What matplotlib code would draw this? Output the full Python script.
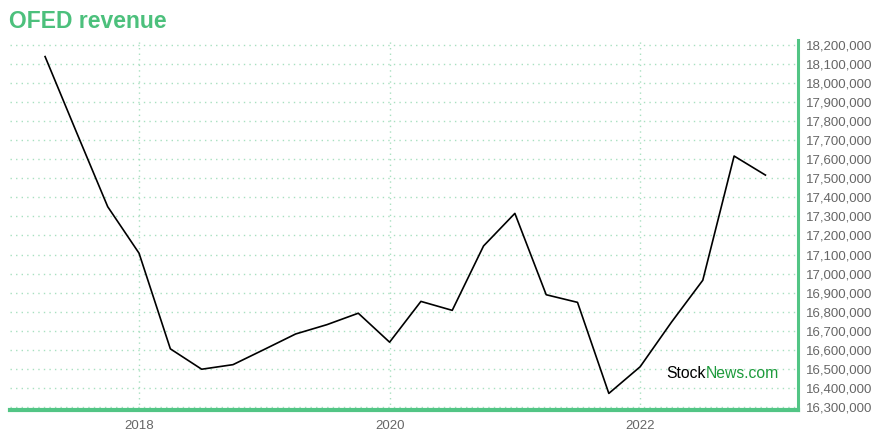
import matplotlib
matplotlib.use("Agg")
import matplotlib.pyplot as plt
from matplotlib.ticker import FuncFormatter, MultipleLocator, FixedLocator

plt.rcParams['font.family'] = ['Liberation Sans', 'DejaVu Sans']

# quarterly revenue (quarter ends, decimal years)
quarters = [2017.25, 2017.5, 2017.75, 2018.0, 2018.25, 2018.5, 2018.75, 2019.0,
            2019.25, 2019.5, 2019.75, 2020.0, 2020.25, 2020.5, 2020.75, 2021.0,
            2021.25, 2021.5, 2021.75, 2022.0, 2022.25, 2022.5, 2022.75, 2023.0]
revenue = [18139000, 17743000, 17351000, 17107000, 16605000, 16498000, 16522000, 16602000,
           16683000, 16732000, 16792000, 16640000, 16854000, 16807000, 17145000, 17316000,
           16889000, 16849000, 16371000, 16511000, 16745000, 16965000, 17617000, 17517000]
year_ticks = [2018, 2020, 2022]

GREEN = "#52c585"
GRID = "#a8e0c0"

fig = plt.figure(figsize=(8.8, 4.4), dpi=100)
ax = fig.add_axes([10 / 880, 30 / 440, 788 / 880, 370 / 440])

ax.plot(quarters, revenue, color="black", lw=1.2, zorder=3)

ax.set_xlim(2016.97, 2023.26)
ax.set_ylim(16284000, 18226000)

ax.yaxis.tick_right()
ax.yaxis.set_major_locator(MultipleLocator(100000))
ax.yaxis.set_major_formatter(FuncFormatter(lambda v, p: f"{int(round(v)):,}"))
ax.xaxis.set_major_locator(FixedLocator(year_ticks))
ax.xaxis.set_major_formatter(FuncFormatter(lambda v, p: f"{int(v)}"))

ax.tick_params(axis="both", length=0, labelsize=9.5, labelcolor="#666666")
ax.tick_params(axis="y", pad=6)
ax.tick_params(axis="x", pad=7)

ax.grid(True, color=GRID, linestyle=(0, (1, 3)), lw=1.0)
ax.set_axisbelow(True)

for s in ["top", "left"]:
    ax.spines[s].set_visible(False)
ax.spines["right"].set_color(GREEN)
ax.spines["right"].set_linewidth(2.2)
ax.spines["bottom"].set_color(GREEN)
ax.spines["bottom"].set_linewidth(3)

fig.text(9 / 880, 1 - 22 / 440, "OFED revenue", color="#4cc07c", fontsize=16.5,
         fontweight="bold", va="center", ha="left")

# watermark, two colours
x0 = (666 - 10) / 788
y0 = (410 - 373) / 370
stock = ax.text(x0, y0, "Stock", transform=ax.transAxes, color="black",
                fontsize=11.3, va="center", ha="left", zorder=4)
fig.canvas.draw()
bb = stock.get_window_extent()
x1 = ax.transAxes.inverted().transform((bb.x1, bb.y0))[0]
ax.text(x1, y0, "News.com", transform=ax.transAxes, color="#1e9b3c",
        fontsize=11.3, va="center", ha="left", zorder=4)

fig.savefig("out.png", dpi=100)
